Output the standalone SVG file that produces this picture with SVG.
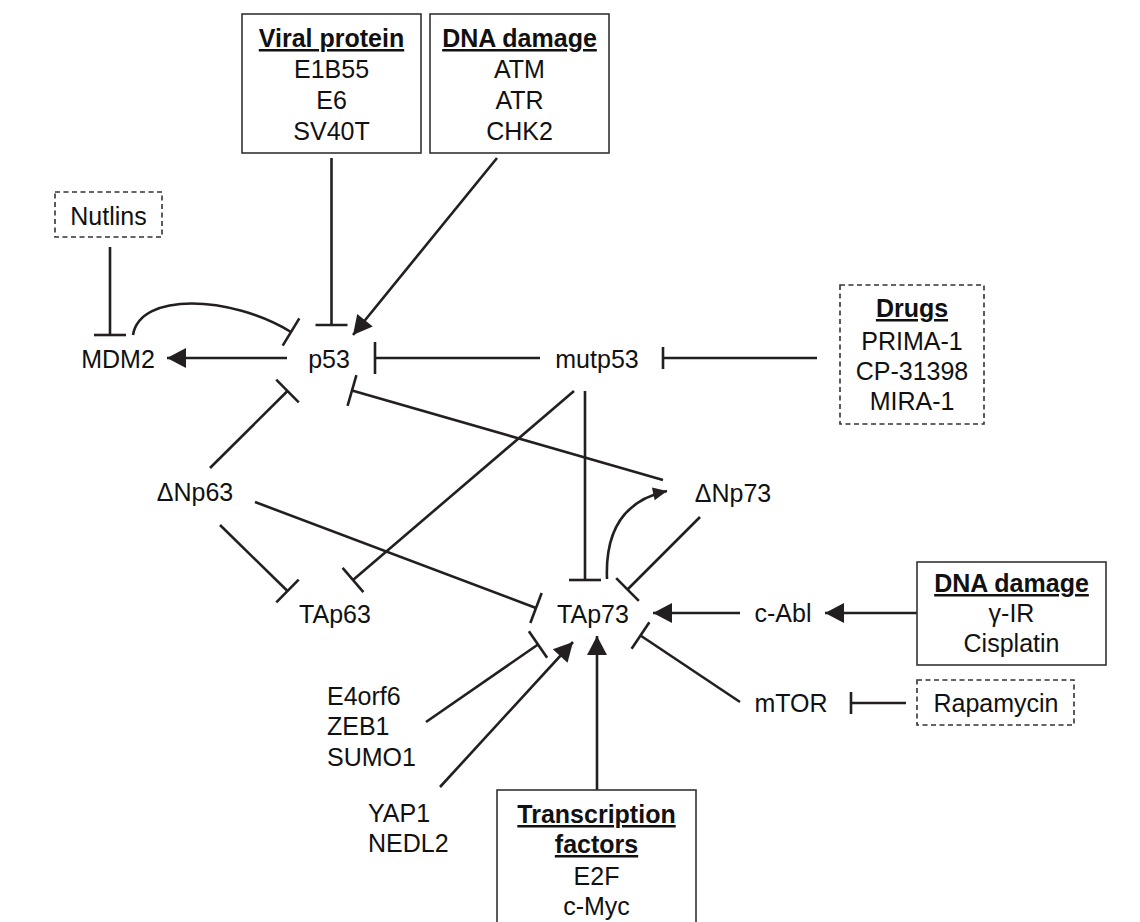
<svg xmlns="http://www.w3.org/2000/svg" width="1140" height="922" viewBox="0 0 1140 922">
<style>
.t{font-family:"Liberation Sans",Arial,sans-serif;font-size:25px;fill:#111;text-anchor:middle}
.h{font-weight:bold;text-decoration:underline}
.l{text-anchor:start}
.box{fill:#fff;stroke:#333;stroke-width:1.6}
.dash{stroke-dasharray:5 3.5}
.c{fill:none;stroke:#231f20;stroke-width:2.6}
</style>
<defs>
<marker id="arr" markerUnits="userSpaceOnUse" viewBox="-20 -11 21 22" markerWidth="21" markerHeight="22" refX="0" refY="0" orient="auto"><path d="M0,0 L-19,-10 L-19,10 Z" fill="#231f20"/></marker>
<marker id="arrS" markerUnits="userSpaceOnUse" viewBox="-15 -8 16 16" markerWidth="16" markerHeight="16" refX="0" refY="0" orient="auto"><path d="M0,0 L-14,-6.5 L-14,6.5 Z" fill="#231f20"/></marker>
<marker id="tee" markerUnits="userSpaceOnUse" viewBox="-3 -17 6 34" markerWidth="6" markerHeight="34" refX="0" refY="0" orient="auto"><path d="M0,-16 L0,16" stroke="#231f20" stroke-width="2.6"/></marker>
<marker id="teeS" markerUnits="userSpaceOnUse" viewBox="-3 -13 6 26" markerWidth="6" markerHeight="26" refX="0" refY="0" orient="auto"><path d="M0,-11 L0,11" stroke="#231f20" stroke-width="2.6"/></marker>
</defs>
<rect width="1140" height="922" fill="#fff"/>

<g id="connectors">
<path class="c" d="M331.5,158 L331.5,325" marker-end="url(#tee)"/>
<path class="c" d="M497,158 L353,335" marker-end="url(#arr)"/>
<path class="c" d="M110,247 L110,335" marker-end="url(#tee)"/>
<path class="c" d="M287,358 L167,358" marker-end="url(#arr)"/>
<path class="c" d="M133,335 C140,292 230,295 291,332" marker-end="url(#tee)"/>
<path class="c" d="M540,358 L375,358" marker-end="url(#tee)"/>
<path class="c" d="M817,358 L663,358" marker-end="url(#teeS)"/>
<path class="c" d="M585,391 L585,580" marker-end="url(#tee)"/>
<path class="c" d="M574,391 L353,580" marker-end="url(#tee)"/>
<path class="c" d="M210,468 L287.5,391" marker-end="url(#tee)"/>
<path class="c" d="M663,480 L352,390.5" marker-end="url(#tee)"/>
<path class="c" d="M220,525 L287.5,591" marker-end="url(#tee)"/>
<path class="c" d="M255,502 L536,608" marker-end="url(#tee)"/>
<path class="c" d="M607,579 C605,530 625,500 667,491" marker-end="url(#arrS)"/>
<path class="c" d="M700,517 L627.5,589.5" marker-end="url(#tee)"/>
<path class="c" d="M740,613 L653,613" marker-end="url(#arr)"/>
<path class="c" d="M917,613 L825,613" marker-end="url(#arr)"/>
<path class="c" d="M740,702 L640.5,635.5" marker-end="url(#tee)"/>
<path class="c" d="M906,703 L851,703" marker-end="url(#teeS)"/>
<path class="c" d="M597,790 L597,636" marker-end="url(#arr)"/>
<path class="c" d="M426,722 L538,644.5" marker-end="url(#tee)"/>
<path class="c" d="M440,787 L573,642" marker-end="url(#arr)"/>
</g>

<g id="viral-protein">
<rect class="box" x="242" y="14" width="179" height="139"/>
<text class="t h" x="331.5" y="47">Viral protein</text>
<text class="t" x="331.5" y="78">E1B55</text>
<text class="t" x="331.5" y="109">E6</text>
<text class="t" x="331.5" y="140">SV40T</text>
</g>
<g id="dna-damage-1">
<rect class="box" x="430" y="14" width="179" height="139"/>
<text class="t h" x="519.5" y="47">DNA damage</text>
<text class="t" x="519.5" y="78">ATM</text>
<text class="t" x="519.5" y="109">ATR</text>
<text class="t" x="519.5" y="140">CHK2</text>
</g>
<g id="nutlins">
<rect class="box dash" x="55" y="192" width="107" height="45"/>
<text class="t" x="108.5" y="225">Nutlins</text>
</g>
<g id="mdm2"><text class="t" x="118" y="368">MDM2</text></g>
<g id="p53"><text class="t" x="329" y="368">p53</text></g>
<g id="mutp53"><text class="t" x="597" y="368">mutp53</text></g>
<g id="drugs">
<rect class="box dash" x="840" y="285" width="144" height="139"/>
<text class="t h" x="912" y="317">Drugs</text>
<text class="t" x="912" y="350">PRIMA-1</text>
<text class="t" x="912" y="380">CP-31398</text>
<text class="t" x="912" y="410">MIRA-1</text>
</g>
<g id="dnp63"><text class="t" x="195" y="501">ΔNp63</text></g>
<g id="dnp73"><text class="t" x="733" y="502">ΔNp73</text></g>
<g id="tap63"><text class="t" x="335" y="623">TAp63</text></g>
<g id="tap73"><text class="t" x="593" y="623">TAp73</text></g>
<g id="cabl"><text class="t" x="783" y="622">c-Abl</text></g>
<g id="dna-damage-2">
<rect class="box" x="917" y="562" width="189" height="103"/>
<text class="t h" x="1011.5" y="592">DNA damage</text>
<text class="t" x="1011.5" y="622">γ-IR</text>
<text class="t" x="1011.5" y="652">Cisplatin</text>
</g>
<g id="mtor"><text class="t" x="791" y="712">mTOR</text></g>
<g id="rapamycin">
<rect class="box dash" x="917" y="680" width="157" height="45"/>
<text class="t" x="996" y="712">Rapamycin</text>
</g>
<g id="e4orf6">
<text class="t l" x="327" y="705">E4orf6</text>
<text class="t l" x="327" y="735">ZEB1</text>
<text class="t l" x="327" y="766">SUMO1</text>
</g>
<g id="yap1">
<text class="t l" x="368" y="822">YAP1</text>
<text class="t l" x="368" y="852">NEDL2</text>
</g>
<g id="transcription-factors">
<rect class="box" x="497" y="790" width="199" height="145"/>
<text class="t h" x="596.5" y="823">Transcription</text>
<text class="t h" x="596.5" y="853">factors</text>
<text class="t" x="596.5" y="885">E2F</text>
<text class="t" x="596.5" y="915">c-Myc</text>
</g>
</svg>
